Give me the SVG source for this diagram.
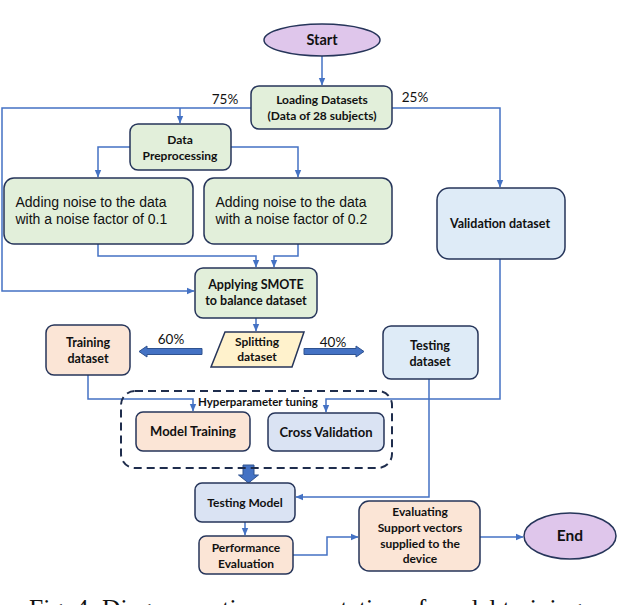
<svg xmlns="http://www.w3.org/2000/svg" width="640" height="605" viewBox="0 0 640 605">
<defs>
<marker id="ah" markerUnits="userSpaceOnUse" markerWidth="8" markerHeight="8" viewBox="0 0 8 8" refX="7" refY="4" orient="auto">
<path d="M0,0.8 L7.5,4 L0,7.2 Z" fill="#4472c4"/>
</marker>
<style>
.box{stroke:#26355a;stroke-width:1.5}
.g{fill:#e2efda}.o{fill:#fbe5d6}.b{fill:#dae3f3}.bl{fill:#deebf7}.y{fill:#fff2cc}.p{fill:#dfc6eb}
.c{fill:none;stroke:#4472c4;stroke-width:1.5;marker-end:url(#ah)}
.blk{fill:#4472c4;stroke:#2f528f;stroke-width:1}
.t{font-family:Lato,"Liberation Sans",sans-serif;font-weight:700;font-size:12px;fill:#111;text-anchor:middle}
.pc{font-family:Lato,"Liberation Sans",sans-serif;font-size:13.5px;fill:#111;text-anchor:middle}
.n{font-family:"Liberation Sans",Arial,sans-serif;font-size:14px;fill:#111}
.cap{font-family:"Liberation Serif","Times New Roman",serif;font-size:25.5px;fill:#111}
</style>
</defs>

<g id="connectors">
<path class="c" d="M322 56 V85"/>
<path class="c" d="M251 108 H2 V291 H194"/>
<path class="c" d="M180 108 V123"/>
<path class="c" d="M392 108 H500 V187"/>
<path class="c" d="M130 147 H98 V177"/>
<path class="c" d="M231 147 H298 V177"/>
<path class="c" d="M98 244 V256 H256 V267"/>
<path class="c" d="M298 244 V256 H274 V267"/>
<path class="c" d="M256 318 V331"/>
<path class="c" d="M88 375 V399 H193 V411"/>
<path class="c" d="M500 259 V399 H326 V412"/>
<path class="c" d="M429 379 V497 H296"/>
<path class="c" d="M245 522 V535"/>
<path class="c" d="M293 555 H327 V537 H358"/>
<path class="c" d="M480 537 H523"/>
<polygon class="blk" points="202,348.5 147,348.5 147,346 139,351.5 147,357 147,354.5 202,354.5"/>
<polygon class="blk" points="304,348.5 356,348.5 356,346 364,351.5 356,357 356,354.5 304,354.5"/>
<polygon class="blk" points="243,465 254,465 254,475 258.5,475 248.5,483 238.5,475 243,475"/>
<text class="pc" x="225" y="104">75%</text>
<text class="pc" x="415" y="102">25%</text>
<text class="pc" x="171" y="344">60%</text>
<text class="pc" x="333" y="347">40%</text>
</g>

<g id="start">
<ellipse class="box p" cx="322" cy="40" rx="58" ry="16"/>
<text class="t" x="322" y="45" style="font-size:14.5px">Start</text>
</g>

<g id="loading">
<rect class="box g" x="251" y="86" width="141" height="43" rx="8"/>
<text class="t" x="322" y="104">Loading Datasets</text>
<text class="t" x="322" y="120">(Data of 28 subjects)</text>
</g>

<g id="preprocessing">
<rect class="box g" x="130" y="124" width="101" height="46" rx="8"/>
<text class="t" x="180" y="144">Data</text>
<text class="t" x="180" y="160">Preprocessing</text>
</g>

<g id="noise1">
<rect class="box g" x="4" y="178" width="189" height="66" rx="10"/>
<text class="n" x="15.5" y="207">Adding noise to the data</text>
<text class="n" x="15.5" y="224">with a noise factor of 0.1</text>
</g>

<g id="noise2">
<rect class="box g" x="204" y="178" width="188" height="66" rx="10"/>
<text class="n" x="215.5" y="207">Adding noise to the data</text>
<text class="n" x="215.5" y="224">with a noise factor of 0.2</text>
</g>

<g id="validation">
<rect class="box bl" x="437" y="188" width="128" height="71" rx="12"/>
<text class="t" x="500" y="228" style="font-size:12.5px">Validation dataset</text>
</g>

<g id="smote">
<rect class="box g" x="195" y="268" width="122" height="50" rx="8"/>
<text class="t" x="256" y="289" style="font-size:12.5px">Applying SMOTE</text>
<text class="t" x="256" y="305" style="font-size:12.5px">to balance dataset</text>
</g>

<g id="splitting">
<polygon class="box y" points="225,332 304,332 292,367 211,367"/>
<text class="t" x="257" y="346">Splitting</text>
<text class="t" x="257" y="361">dataset</text>
</g>

<g id="training">
<rect class="box o" x="46" y="325" width="84" height="50" rx="8"/>
<text class="t" x="88" y="347" style="font-size:12.5px">Training</text>
<text class="t" x="88" y="363" style="font-size:12.5px">dataset</text>
</g>

<g id="testing">
<rect class="box bl" x="383" y="326" width="95" height="53" rx="8"/>
<text class="t" x="430" y="350" style="font-size:12.5px">Testing</text>
<text class="t" x="430" y="366" style="font-size:12.5px">dataset</text>
</g>

<g id="hyperparameter">
<rect x="121" y="391" width="271" height="77" rx="14" fill="none" stroke="#1f2d4d" stroke-width="2" stroke-dasharray="8 5"/>
<text class="t" x="258" y="406" style="font-size:11.5px">Hyperparameter tuning</text>
</g>

<g id="model-training">
<rect class="box o" x="136" y="412" width="114" height="39" rx="7"/>
<text class="t" x="193" y="436" style="font-size:13px">Model Training</text>
</g>

<g id="cross-validation">
<rect class="box b" x="268" y="413" width="116" height="38" rx="7"/>
<text class="t" x="326" y="437" style="font-size:13px">Cross Validation</text>
</g>

<g id="testing-model">
<rect class="box b" x="195" y="483" width="100" height="39" rx="7"/>
<text class="t" x="245" y="507">Testing Model</text>
</g>

<g id="performance">
<rect class="box o" x="199" y="536" width="94" height="38" rx="7"/>
<text class="t" x="246" y="552">Performance</text>
<text class="t" x="246" y="568">Evaluation</text>
</g>

<g id="evaluating">
<rect class="box o" x="359" y="501" width="121" height="70" rx="10"/>
<text class="t" x="420" y="516">Evaluating</text>
<text class="t" x="420" y="532">Support vectors</text>
<text class="t" x="420" y="548">supplied to the</text>
<text class="t" x="420" y="563">device</text>
</g>

<g id="end">
<ellipse class="box p" cx="570" cy="536" rx="46" ry="23"/>
<text class="t" x="570" y="541" style="font-size:15.5px">End</text>
</g>

<text class="cap" x="29" y="617">Fig. 4: Diagrammatic representation of model training</text>
</svg>
